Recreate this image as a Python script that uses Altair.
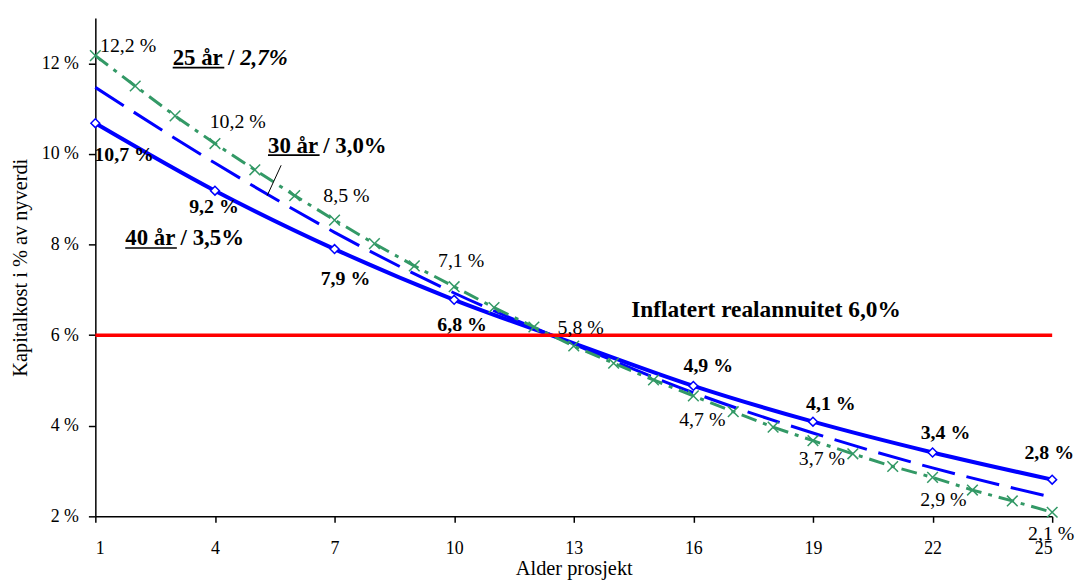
import altair as alt
import pandas as pd

# ---------------- data ----------------
years_all = list(range(1, 26))
green_25y = [12.17, 11.50, 10.84, 10.23, 9.65, 9.08, 8.54, 8.02, 7.53, 7.07,
             6.61, 6.18, 5.76, 5.38, 5.01, 4.66, 4.31, 3.97, 3.67, 3.38,
             3.10, 2.86, 2.58, 2.34, 2.09]
years_3 = [1, 4, 7, 10, 13, 16, 19, 22, 25]
blue_40y = [10.68, 9.19, 7.90, 6.78, 5.82, 4.88, 4.09, 3.41, 2.81]
blue_30y = [11.47, 9.80, 8.27, 6.93, 5.80, 4.73, 3.84, 3.07, 2.42]
real_annuity = 6.0
x_ticks = [1, 4, 7, 10, 13, 16, 19, 22, 25]
y_ticks = [2, 4, 6, 8, 10, 12]

# ---------------- layout ----------------
W, H = 964, 502
XMIN, XMAX, YMIN, YMAX = 1, 25, 2, 13
PX_X = W / (XMAX - XMIN)
PX_Y = H / (YMAX - YMIN)
FONT = "Liberation Serif"

# label offsets (pixels, text centre / baseline relative to the point)
bold_off = {1: (29, 38), 4: (-1, 23), 7: (11, 36), 10: (8, 31),
            16: (15, -14), 19: (18, -12), 22: (13, -14), 25: (-3, -21)}
green_off = {1: (33, -4), 4: (23, -16), 7: (12, -18), 10: (7, -20), 13: (7, -12),
             16: (9, 30), 19: (9, 24), 22: (11, 29), 25: (-1, 28)}


def fmt(v):
    return f"{v:.1f}".replace(".", ",") + " %"


df_green = pd.DataFrame({"year": years_all, "value": green_25y})
df_40 = pd.DataFrame({"year": years_3, "value": blue_40y})
df_30 = pd.DataFrame({"year": years_3, "value": blue_30y})

rows = []
for yr, v in zip(years_3, blue_40y):
    if yr in bold_off:
        dx, dy = bold_off[yr]
        rows.append({"year": yr, "value": v, "lx": yr + dx / PX_X,
                     "ly": v - dy / PX_Y, "text": fmt(v)})
df_bold = pd.DataFrame(rows)

rows = []
for yr, v in zip(years_all, green_25y):
    if yr in green_off:
        dx, dy = green_off[yr]
        rows.append({"lx": yr + dx / PX_X, "ly": v - dy / PX_Y, "text": fmt(v)})
df_glab = pd.DataFrame(rows)

xs = alt.Scale(domain=[XMIN, XMAX], nice=False, zero=False)
ys = alt.Scale(domain=[YMIN, YMAX], nice=False, zero=False)

x_axis = alt.Axis(values=x_ticks, title="Alder prosjekt", tickSize=6,
                  labelBaseline="alphabetic", labelPadding=31,
                  titleX=W / 2, titleY=59, titleBaseline="alphabetic",
                  titleAlign="center")
y_axis = alt.Axis(values=y_ticks, title="Kapitalkost i % av nyverdi",
                  labelExpr="datum.value + ' %'", tickSize=7, labelPadding=10,
                  titleX=-69, titleY=251, titleAlign="center",
                  titleBaseline="alphabetic")

base_x = alt.X("year:Q", scale=xs, axis=x_axis)
base_y = alt.Y("value:Q", scale=ys, axis=y_axis)

line40 = alt.Chart(df_40).mark_line(color="#0000FF", strokeWidth=4,
                                    interpolate="monotone").encode(x=base_x, y=base_y)
line30 = alt.Chart(df_30).mark_line(color="#0000FF", strokeWidth=3, strokeDash=[34, 12],
                                    interpolate="monotone").encode(x="year:Q", y="value:Q")
line25 = alt.Chart(df_green).mark_line(color="#339966", strokeWidth=3,
                                       strokeDash=[16, 7, 4, 7]).encode(x="year:Q", y="value:Q")
xmarks = alt.Chart(df_green).mark_point(shape="M-1,-1L1,1M-1,1L1,-1", filled=False,
                                        stroke="#339966", strokeWidth=1.5, size=115,
                                        opacity=1).encode(x="year:Q", y="value:Q")
diamonds = alt.Chart(df_bold).mark_point(shape="diamond", filled=True, fill="white",
                                         stroke="#0000FF", strokeWidth=1.5, size=80,
                                         opacity=1).encode(x="year:Q", y="value:Q")

df_red = pd.DataFrame({"x": [XMIN], "x2": [XMAX], "y": [real_annuity]})
red = alt.Chart(df_red).mark_rule(color="#FF0000", strokeWidth=3.5).encode(
    x="x:Q", x2="x2:Q", y="y:Q")

bold_text = alt.Chart(df_bold).mark_text(font=FONT, fontSize=20, fontWeight="bold",
                                         align="center", baseline="alphabetic",
                                         color="black").encode(
    x="lx:Q", y="ly:Q", text="text:N")
green_text = alt.Chart(df_glab).mark_text(font=FONT, fontSize=20, align="center",
                                          baseline="alphabetic", color="black").encode(
    x="lx:Q", y="ly:Q", text="text:N")

# series annotations (anchor in data coordinates)
ann_text = ["25 år / ", "30 år / 3,0%", "40 år / 3,5%"]
ann_x = [2.94, 5.33, 1.75]
ann_y = [11.96, 10.03, 7.98]
df_ann = pd.DataFrame({"x": ann_x, "y": ann_y, "text": ann_text})
ann = alt.Chart(df_ann).mark_text(font=FONT, fontSize=23, fontWeight="bold", align="left",
                                  baseline="alphabetic", color="black").encode(
    x="x:Q", y="y:Q", text="text:N")
df_ital = pd.DataFrame({"x": [2.94 + 68 / PX_X], "y": [11.96], "text": ["2,7%"]})
ann_it = alt.Chart(df_ital).mark_text(font=FONT, fontSize=23, fontWeight="bold",
                                      fontStyle="italic", align="left",
                                      baseline="alphabetic", color="black").encode(
    x="x:Q", y="y:Q", text="text:N")
df_infl = pd.DataFrame({"x": [14.44], "y": [6.41], "text": ["Inflatert realannuitet 6,0%"]})
ann_infl = alt.Chart(df_infl).mark_text(font=FONT, fontSize=23.5, fontWeight="bold",
                                        align="left", baseline="alphabetic",
                                        color="black").encode(
    x="x:Q", y="y:Q", text="text:N")

ul_len = 52 / PX_X
ul_drop = 2.5 / PX_Y
df_ul = pd.DataFrame({"x": ann_x, "x2": [a + ul_len for a in ann_x],
                      "y": [a - ul_drop for a in ann_y]})
underline = alt.Chart(df_ul).mark_rule(color="black", strokeWidth=1.6).encode(
    x="x:Q", x2="x2:Q", y="y:Q")

df_call = pd.DataFrame({"x": [5.66], "x2": [5.31], "y": [9.75], "y2": [9.08]})
callout = alt.Chart(df_call).mark_rule(color="black", strokeWidth=1).encode(
    x="x:Q", x2="x2:Q", y="y:Q", y2="y2:Q")

chart = alt.layer(
    line40, line30, line25, xmarks, diamonds, red, callout,
    bold_text, green_text, ann, ann_it, ann_infl, underline
).properties(
    width=W, height=H,
    autosize=alt.AutoSizeParams(type="none"),
    padding={"left": 88, "top": 8, "right": 24, "bottom": 63},
).configure_view(stroke=None).configure_axis(
    grid=False, domainColor="black", domainWidth=1.5, tickColor="black", tickWidth=1.5,
    labelFont=FONT, labelFontSize=18, labelColor="black",
    titleFont=FONT, titleFontSize=20.5, titleFontWeight="normal", titleColor="black",
)

chart.save("out.html", embed_options={"renderer": "svg", "actions": False})
